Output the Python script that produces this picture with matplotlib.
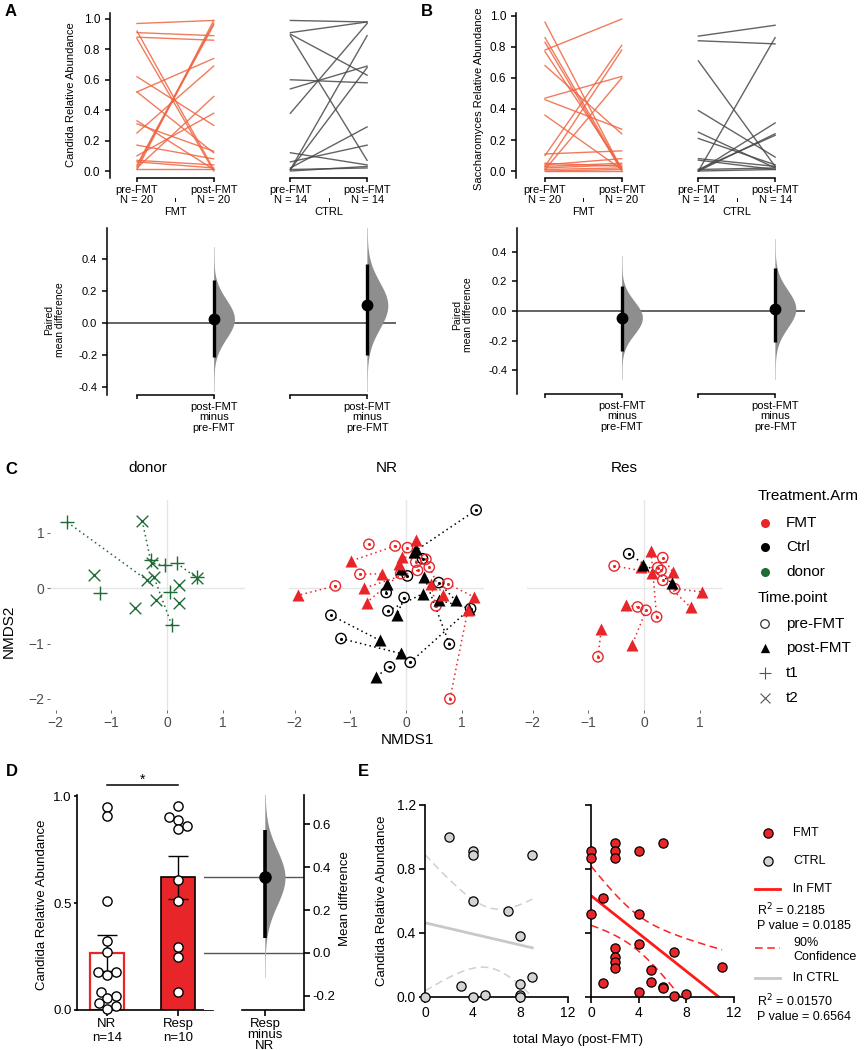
import numpy as np
import matplotlib
matplotlib.use('Agg')
import matplotlib.pyplot as plt

plt.rcParams['font.family'] = ['Liberation Sans', 'DejaVu Sans']
plt.rcParams['axes.unicode_minus'] = True

# ================= DATA =================
time_labels = ['pre-FMT', 'post-FMT']
arm_labels = ['FMT', 'CTRL']
arm_n = [20, 14]

# Panel A: Candida relative abundance, paired pre/post
cand_fmt_pre = [0.97, 0.92, 0.91, 0.88, 0.87, 0.62, 0.52, 0.52, 0.33, 0.31,
                0.25, 0.17, 0.10, 0.07, 0.06, 0.04, 0.03, 0.02, 0.01, 0.01]
cand_fmt_post = [0.99, 0.01, 0.89, 0.86, 0.00, 0.30, 0.74, 0.12, 0.01, 0.13,
                 0.69, 0.08, 0.38, 0.04, 0.02, 0.97, 0.96, 0.49, 0.99, 0.01]
cand_ctrl_pre = [0.99, 0.91, 0.90, 0.89, 0.60, 0.54, 0.38, 0.12, 0.06, 0.02, 0.01, 0.01, 0.01, 0.00]
cand_ctrl_post = [0.98, 0.98, 0.63, 0.07, 0.58, 0.69, 0.97, 0.04, 0.17, 0.29, 0.89, 0.68, 0.02, 0.03]
cand_diff = [0.025, 0.11]
cand_ci_lo = [-0.21, -0.20]
cand_ci_hi = [0.27, 0.37]

# Panel B: Saccharomyces relative abundance, paired pre/post
sacc_fmt_pre = [0.96, 0.86, 0.83, 0.78, 0.77, 0.68, 0.47, 0.46, 0.36, 0.11,
                0.10, 0.05, 0.04, 0.03, 0.03, 0.02, 0.01, 0.01, 0.00, 0.00]
sacc_fmt_post = [0.01, 0.01, 0.00, 0.98, 0.02, 0.24, 0.61, 0.27, 0.01, 0.13,
                 0.81, 0.03, 0.08, 0.78, 0.05, 0.04, 0.60, 0.02, 0.01, 0.00]
sacc_ctrl_pre = [0.87, 0.84, 0.71, 0.39, 0.25, 0.21, 0.08, 0.07, 0.01, 0.01, 0.00, 0.00, 0.00, 0.00]
sacc_ctrl_post = [0.94, 0.82, 0.03, 0.09, 0.02, 0.04, 0.03, 0.01, 0.23, 0.02, 0.86, 0.31, 0.24, 0.01]
sacc_diff = [-0.045, 0.015]
sacc_ci_lo = [-0.27, -0.21]
sacc_ci_hi = [0.17, 0.29]

# Panel C: NMDS coordinates (first n_paired entries of pre/post are paired)
facet_titles = ['donor', 'NR', 'Res']
donor_t1_x = [-1.79, -0.30, 0.08, 0.17, -0.04, -1.20, 0.05, 0.53]
donor_t1_y = [1.19, 0.50, -0.67, 0.45, 0.41, -0.09, -0.07, 0.20]
donor_t2_x = [-0.36, -0.45, -0.24, 0.53, -0.27, -1.32, -0.57, -0.21, 0.20, 0.20]
donor_t2_y = [0.14, 1.22, 0.20, 0.18, 0.45, 0.23, -0.36, -0.22, 0.05, -0.27]
donor_n_paired = 5

nr_fmt_pre_x = [-1.27, -0.20, -0.83, 0.78, 0.74, 0.53, 0.41, 0.20, 0.17, -0.10, 0.35, 0.02, -0.67]
nr_fmt_pre_y = [0.04, 0.76, 0.25, -2.00, 0.08, -0.32, 0.38, 0.32, 0.47, 0.26, 0.52, 0.73, 0.79]
nr_fmt_post_x = [-1.94, -0.99, -0.43, 1.10, 1.21, 0.44, 0.65, -0.75, 0.17, -0.71, -0.07, -0.13]
nr_fmt_post_y = [-0.13, 0.49, 0.26, -0.40, -0.16, 0.08, -0.13, 0.00, 0.86, -0.26, 0.56, 0.44]
nr_fmt_n_paired = 12
nr_ctrl_pre_x = [1.25, -1.35, -1.17, -0.30, 1.15, 0.77, -0.33, -0.04, -0.36, 0.02, 0.58, 0.29, 0.07]
nr_ctrl_pre_y = [1.41, -0.49, -0.91, -1.42, -0.37, -1.01, -0.41, -0.17, -0.08, 0.22, 0.10, 0.53, -1.34]
nr_ctrl_post_x = [0.13, -0.48, -0.10, -0.54, 0.59, 0.32, 0.30, -0.17, -0.35, -0.10, 0.88, 0.17, 1.13]
nr_ctrl_post_y = [0.65, -0.94, -1.18, -1.60, -0.22, 0.20, -0.10, -0.49, 0.08, 0.35, -0.22, 0.70, -0.38]
nr_ctrl_n_paired = 13

res_fmt_pre_x = [-0.83, 0.03, 0.54, 0.33, -0.54, 0.33, 0.22, -0.12, 0.24, 0.30]
res_fmt_pre_y = [-1.24, -0.40, -0.01, 0.14, 0.40, 0.55, -0.52, -0.34, 0.37, 0.32]
res_fmt_post_x = [-0.77, -0.22, 1.04, 0.83, 0.14, 0.51, 0.12, -0.33, -0.06]
res_fmt_post_y = [-0.74, -1.03, -0.07, -0.35, 0.28, 0.29, 0.67, -0.31, 0.38]
res_fmt_n_paired = 9
res_ctrl_pre_x = [-0.28]
res_ctrl_pre_y = [0.62]
res_ctrl_post_x = [0.49, -0.03]
res_ctrl_post_y = [0.10, 0.41]
res_ctrl_n_paired = 1

# Panel D: Candida abundance NR vs Responders
d_groups = ['NR', 'Resp']
d_nr = [0.95, 0.906, 0.509, 0.324, 0.272, 0.179, 0.179, 0.163, 0.086, 0.065, 0.055, 0.031, 0.019, 0.005]
d_resp = [0.953, 0.903, 0.888, 0.86, 0.844, 0.607, 0.509, 0.296, 0.249, 0.086]
d_ci = [0.071, 0.576]

# Panel E: Candida vs total Mayo (post-FMT)
e_ctrl_mayo = [2, 4, 4, 9, 4, 7, 8, 9, 3, 8, 0, 4, 5, 8, 8]
e_ctrl_cand = [1.0, 0.91, 0.89, 0.89, 0.60, 0.54, 0.38, 0.127, 0.069, 0.08, 0.0, 0.0, 0.015, 0.015, 0.0]
e_fmt_mayo = [0, 0, 0, 1, 1, 2, 2, 2, 2, 2, 2, 2, 4, 6, 4, 4, 7, 11, 5, 5, 6, 6, 4, 7, 8]
e_fmt_cand = [0.91, 0.87, 0.52, 0.62, 0.09, 0.964, 0.914, 0.871, 0.304, 0.252, 0.221, 0.183,
              0.914, 0.964, 0.517, 0.329, 0.279, 0.19, 0.169, 0.092, 0.065, 0.054, 0.029, 0.006, 0.019]
t90_by_df = {13: 1.771, 23: 1.714}

# ================= STYLE =================
W, H = 864, 1050
fig = plt.figure(figsize=(W / 100, H / 100), dpi=100)

RED = '#E8262A'
GREEN = '#1E6B35'
FMT_LINE = '#F06440'
CTRL_LINE = '#484848'
VIOLIN = '#8E8E8E'


def add_px(l, t, w, h):
    return fig.add_axes([l / W, 1 - (t + h) / H, w / W, h / H])


def half_violin(ax, pos, eff, lo, hi, width, span=3.7, lw_ci=2.4, ms=7.5):
    sd = (hi - lo) / (2 * 1.96)
    yy = np.linspace(eff - span * sd, eff + span * sd, 400)
    dens = np.exp(-0.5 * ((yy - eff) / sd) ** 2)
    ax.plot([pos, pos], [yy[0], yy[-1]], color='#D5D5D5', lw=0.7, zorder=2)
    ax.fill_betweenx(yy, pos, pos + width * dens, color=VIOLIN, lw=0, zorder=2)
    ax.plot([pos, pos], [lo, hi], color='black', lw=lw_ci, solid_capstyle='butt', zorder=3)
    ax.plot(pos, eff, 'o', color='black', ms=ms, zorder=4)


def paired_panel(top, bot, pres, posts, diffs, los, his):
    l, t, w, h, xl, yl = top
    axt = add_px(l, t, w, h)
    cols = [FMT_LINE, CTRL_LINE]
    for g in range(2):
        for a, b in zip(pres[g], posts[g]):
            axt.plot([2 * g, 2 * g + 1], [a, b], color=cols[g], lw=1.0, alpha=0.85)
    axt.set_xlim(xl)
    axt.set_ylim(yl)
    for s in ['top', 'right', 'bottom']:
        axt.spines[s].set_visible(False)
    axt.spines['left'].set_linewidth(1.1)
    yt = [0.0, 0.2, 0.4, 0.6, 0.8, 1.0]
    axt.set_yticks(yt)
    axt.set_yticklabels([f'{v:.1f}' for v in yt])
    axt.set_xticks([0, 1, 2, 3])
    axt.set_xticklabels([f'{time_labels[k % 2]}\nN = {arm_n[k // 2]}' for k in range(4)])
    axt.tick_params(axis='y', labelsize=8.5, length=3.5, width=1.1, direction='out')
    axt.tick_params(axis='x', labelsize=8, length=3, width=1.1, direction='out', pad=2)
    for lab in axt.get_xticklabels():
        lab.set_linespacing(1.0)
    tr = axt.get_xaxis_transform()
    for g in range(2):
        axt.plot([2 * g, 2 * g + 1], [0, 0], transform=tr, color='black', lw=1.1, clip_on=False)
        axt.plot([2 * g + 0.5] * 2, [-20 / h, -23 / h], transform=tr, color='black', lw=0.7, clip_on=False)
        axt.text(2 * g + 0.5, -34 / h, arm_labels[g], transform=tr, ha='center', va='center', fontsize=8)

    l, t, w, h, xl, yl = bot
    axb = add_px(l, t, w, h)
    axb.axhline(0, color='#3A3A3A', lw=1.1, zorder=1)
    for g in range(2):
        half_violin(axb, 2 * g + 1, diffs[g], los[g], his[g], 0.27)
    axb.set_xlim(xl)
    axb.set_ylim(yl)
    for s in ['top', 'right', 'bottom']:
        axb.spines[s].set_visible(False)
    axb.spines['left'].set_linewidth(1.1)
    yt = [-0.4, -0.2, 0.0, 0.2, 0.4]
    axb.set_yticks(yt)
    axb.set_yticklabels([f'{v:.1f}' for v in yt])
    axb.set_xticks([0, 1, 2, 3])
    axb.set_xticklabels(['', f'{time_labels[1]}\nminus\n{time_labels[0]}'] * 2)
    axb.tick_params(axis='y', labelsize=8, length=3.5, width=1.1, direction='out')
    axb.tick_params(axis='x', labelsize=8, length=3, width=1.1, direction='out', pad=2)
    for lab in axb.get_xticklabels():
        lab.set_linespacing(1.05)
    tr = axb.get_xaxis_transform()
    for g in range(2):
        axb.plot([2 * g, 2 * g + 1], [0, 0], transform=tr, color='black', lw=1.1, clip_on=False)
    return axt, axb


# ---------- Panel A ----------
u = 76.7
paired_panel((110, 13, 290, 165, (-27 / u, 263 / u), (-0.046, 1.039)),
             (107, 228, 289, 167, (-30 / u, 259 / u), (-0.45, 0.594)),
             [cand_fmt_pre, cand_ctrl_pre], [cand_fmt_post, cand_ctrl_post],
             cand_diff, cand_ci_lo, cand_ci_hi)
# ---------- Panel B ----------
paired_panel((516, 13, 290, 165, (-29 / u, 261 / u), (-0.045, 1.019)),
             (517, 228, 288, 166, (-28 / u, 260 / u), (-0.56, 0.56)),
             [sacc_fmt_pre, sacc_ctrl_pre], [sacc_fmt_post, sacc_ctrl_post],
             sacc_diff, sacc_ci_lo, sacc_ci_hi)

# ---------- Panel C ----------
def draw_pairs(ax, x0, y0, x1, y1, n, color):
    for i in range(n):
        ax.plot([x0[i], x1[i]], [y0[i], y1[i]], ls=(0, (1, 2.2)), color=color, lw=1.1, zorder=1)


facet_lefts = [50, 289, 527]
c_axes = []
for k, (fl, title) in enumerate(zip(facet_lefts, facet_titles)):
    ax = add_px(fl, 500, 195, 210)
    ax.set_xlim(-2.1, 1.39)
    ax.set_ylim(-2.2, 1.59)
    ax.axhline(0, color='#E6E6E6', lw=1.0, zorder=0)
    ax.axvline(0, color='#E6E6E6', lw=1.0, zorder=0)
    for s in ax.spines.values():
        s.set_visible(False)
    ax.set_xticks([-2, -1, 0, 1])
    ax.set_yticks([-2, -1, 0, 1])
    ax.tick_params(axis='both', labelsize=10, length=2, width=0.6, colors='#4D4D4D', pad=2)
    if k > 0:
        ax.tick_params(axis='y', left=False, labelleft=False)
    ax.annotate(title, xy=(0.5, 1), xycoords='axes fraction', xytext=(0, 23),
                textcoords='offset points', ha='center', va='center', fontsize=11)
    c_axes.append(ax)

axd0, axn, axr = c_axes
# donor
draw_pairs(axd0, donor_t1_x, donor_t1_y, donor_t2_x, donor_t2_y, donor_n_paired, GREEN)
axd0.scatter(donor_t1_x, donor_t1_y, marker='+', s=110, color=GREEN, lw=1.0, zorder=3)
axd0.scatter(donor_t2_x, donor_t2_y, marker='x', s=70, color=GREEN, lw=1.0, zorder=3)


def arm_points(ax, prex, prey, postx, posty, n, color):
    draw_pairs(ax, prex, prey, postx, posty, n, color)
    ax.scatter(prex, prey, marker='o', s=55, facecolors='none', edgecolors=color, lw=1.0, zorder=3)
    ax.scatter(prex, prey, marker='o', s=1.5, color=color, zorder=3)
    ax.scatter(postx, posty, marker='^', s=75, color=color, lw=0, zorder=4)


arm_points(axn, nr_ctrl_pre_x, nr_ctrl_pre_y, nr_ctrl_post_x, nr_ctrl_post_y, nr_ctrl_n_paired, 'black')
arm_points(axn, nr_fmt_pre_x, nr_fmt_pre_y, nr_fmt_post_x, nr_fmt_post_y, nr_fmt_n_paired, RED)
arm_points(axr, res_fmt_pre_x, res_fmt_pre_y, res_fmt_post_x, res_fmt_post_y, res_fmt_n_paired, RED)
arm_points(axr, res_ctrl_pre_x, res_ctrl_pre_y, res_ctrl_post_x, res_ctrl_post_y, res_ctrl_n_paired, 'black')

# ---------- Panel D ----------
def swarm_offsets(vals, d_px, ypx):
    placed = []
    offs = [0.0] * len(vals)
    for i in np.argsort(vals):
        y = vals[i] * ypx
        cands = [0.0]
        for px_, py_ in placed:
            dy = abs(py_ - y)
            if dy < d_px:
                dx = np.sqrt(d_px ** 2 - dy ** 2)
                cands += [px_ + dx, px_ - dx]
        cands.sort(key=abs)
        chosen = 0.0
        for c in cands:
            if all((c - px_) ** 2 + (y - py_) ** 2 >= d_px ** 2 - 1e-6 for px_, py_ in placed):
                chosen = c
                break
        placed.append((chosen, y))
        offs[i] = chosen
    return offs


axD = add_px(77, 795, 136, 215)
d_ylim = (0, 1.005)
xpx = 71.0
ypx = 215 / (d_ylim[1] - d_ylim[0])
d_vals = [np.array(d_nr), np.array(d_resp)]
d_means = [v.mean() for v in d_vals]
d_sems = [v.std(ddof=1) / np.sqrt(len(v)) for v in d_vals]
axD.bar(0, d_means[0], width=0.48, color='white', edgecolor=RED, lw=1.6, zorder=1)
axD.bar(1, d_means[1], width=0.48, color=RED, edgecolor='black', lw=1.2, zorder=1)
axD.errorbar([0, 1], d_means, yerr=d_sems, fmt='none', ecolor='black', elinewidth=1.0,
             capsize=7.5, capthick=1.0, zorder=2)
for g, v in enumerate(d_vals):
    offs = swarm_offsets(v, 9.3, ypx)
    axD.scatter(g + np.array(offs) / xpx, v, s=44, facecolors='white', edgecolors='black',
                lw=1.0, zorder=3, clip_on=False)
axD.set_xlim(-0.42, 1.49)
axD.set_ylim(d_ylim)
for s in ['top', 'right']:
    axD.spines[s].set_visible(False)
for s in ['left', 'bottom']:
    axD.spines[s].set_linewidth(1.2)
axD.set_yticks([0.0, 0.5, 1.0])
axD.set_yticklabels(['0.0', '0.5', '1.0'])
axD.set_xticks([0, 1])
axD.set_xticklabels([f'{g}\nn={len(v)}' for g, v in zip(d_groups, d_vals)])
axD.tick_params(axis='both', labelsize=9.5, length=4, width=1.2, direction='out', pad=2)
axD.tick_params(axis='y', length=2)
axD.plot([0, 1], [1.051, 1.051], color='black', lw=1.1, clip_on=False)
axD.text(0.5, 1.075, '*', ha='center', va='center', fontsize=10)

axDr = add_px(204, 795, 100, 215)
d_eff = d_means[1] - d_means[0]
axDr.set_ylim(d_ylim[0] - d_means[0], d_ylim[1] - d_means[0])
axDr.set_xlim(0, 1)
axDr.axhline(0, color='#555555', lw=1.0, zorder=1)
axDr.axhline(d_eff, color='#555555', lw=1.0, zorder=1)
half_violin(axDr, 0.61, d_eff, d_ci[0], d_ci[1], 0.2, span=3.6, lw_ci=2.6, ms=8)
for s in ['top', 'left']:
    axDr.spines[s].set_visible(False)
axDr.spines['right'].set_linewidth(1.2)
axDr.spines['bottom'].set_linewidth(1.2)
axDr.spines['bottom'].set_bounds(0.38, 1.0)
axDr.yaxis.tick_right()
yt = [-0.2, 0.0, 0.2, 0.4, 0.6]
axDr.set_yticks(yt)
axDr.set_yticklabels([f'{v:.1f}' for v in yt])
axDr.set_xticks([0.61])
axDr.set_xticklabels([f'{d_groups[1]}\nminus\n{d_groups[0]}'])
axDr.tick_params(axis='both', labelsize=9.5, length=4, width=1.2, direction='out', pad=2)
for lab in axDr.get_xticklabels():
    lab.set_linespacing(0.85)

# ---------- Panel E ----------
def fit_band(x, y):
    x = np.asarray(x, float)
    y = np.asarray(y, float)
    n = len(x)
    slope, icpt = np.polyfit(x, y, 1)
    resid = y - (icpt + slope * x)
    s = np.sqrt((resid ** 2).sum() / (n - 2))
    sxx = ((x - x.mean()) ** 2).sum()
    xs = np.linspace(x.min(), x.max(), 200)
    yh = icpt + slope * xs
    w = t90_by_df[n - 2] * s * np.sqrt(1 / n + (xs - x.mean()) ** 2 / sxx)
    return xs, yh, yh - w, yh + w


e_panels = [(425, e_ctrl_mayo, e_ctrl_cand, '#D3D3D3', '#C8C8C8', '#D0D0D0'),
            (591, e_fmt_mayo, e_fmt_cand, RED, '#FF1A1A', '#FF2020')]
for k, (el, xv, yv, fc, lc, bc) in enumerate(e_panels):
    ax = add_px(el, 805, 143, 192)
    xs, yh, lo, hi = fit_band(xv, yv)
    ax.plot(xs, lo, color=bc, lw=1.1, ls=(0, (5, 3)), zorder=1)
    ax.plot(xs, hi, color=bc, lw=1.1, ls=(0, (5, 3)), zorder=1)
    ax.plot(xs, yh, color=lc, lw=2.0, zorder=2)
    ax.scatter(xv, yv, s=44, color=fc, edgecolors='black', lw=0.9, zorder=3, clip_on=False)
    ax.set_xlim(0, 12)
    ax.set_ylim(0, 1.2)
    for s in ['top', 'right']:
        ax.spines[s].set_visible(False)
    for s in ['left', 'bottom']:
        ax.spines[s].set_linewidth(1.2)
    ax.set_xticks([0, 4, 8, 12])
    ax.set_yticks([0.0, 0.4, 0.8, 1.2])
    ax.set_yticklabels(['0.0', '0.4', '0.8', '1.2'])
    ax.tick_params(axis='both', labelsize=10, length=4.5, width=1.2, direction='out', pad=2)
    if k == 1:
        ax.set_yticklabels([])

# ================= OVERLAY TEXT / LEGENDS =================
ov = fig.add_axes([0, 0, 1, 1])
ov.set_xlim(0, W)
ov.set_ylim(H, 0)
ov.axis('off')
ov.set_zorder(20)

for lab, x, y in [('A', 11, 12), ('B', 427, 12), ('C', 11, 469), ('D', 12, 772), ('E', 363, 772)]:
    ov.text(x, y, lab, fontsize=12, fontweight='bold', ha='center', va='center')

ov.text(71, 95, 'Candida Relative Abundance', rotation=90, fontsize=8, ha='center', va='center')
ov.text(479, 99, 'Saccharomyces Relative Abundance', rotation=90, fontsize=8, ha='center', va='center')
ov.text(55, 320, 'Paired\nmean difference', rotation=90, fontsize=7.5, ha='center', va='center',
        linespacing=1.1)
ov.text(463, 315, 'Paired\nmean difference', rotation=90, fontsize=7.5, ha='center', va='center',
        linespacing=1.1)

ov.text(407, 740, 'NMDS1', fontsize=11, ha='center', va='center')
ov.text(9, 631, 'NMDS2', fontsize=11, ha='center', va='center', rotation=90)

# C legend
ov.text(758, 496, 'Treatment.Arm', fontsize=11, ha='left', va='center')
for y, c, lab in [(523, RED, 'FMT'), (547, 'black', 'Ctrl'), (572, GREEN, 'donor')]:
    ov.scatter(765, y, s=30, color=c)
    ov.text(786, y, lab, fontsize=11, va='center')
ov.text(758, 598, 'Time.point', fontsize=11, ha='left', va='center')
ov.scatter(765, 624, s=38, facecolors='none', edgecolors='#333333', lw=0.9)
ov.text(786, 624, time_labels[0], fontsize=11, va='center')
ov.scatter(765, 648, s=45, marker='^', color='black', lw=0)
ov.text(786, 648, time_labels[1], fontsize=11, va='center')
ov.scatter(765, 673, s=80, marker='+', color='#555555', lw=0.8)
ov.text(786, 673, 't1', fontsize=11, va='center')
ov.scatter(765, 698, s=50, marker='x', color='#555555', lw=0.8)
ov.text(786, 698, 't2', fontsize=11, va='center')

# D labels
ov.text(42, 905, 'Candida Relative Abundance', rotation=90, fontsize=9.5, ha='center', va='center')
ov.text(345, 899, 'Mean difference', rotation=90, fontsize=9.5, ha='center', va='center')

# E labels
ov.text(382, 901, 'Candida Relative Abundance', rotation=90, fontsize=9.5, ha='center', va='center')
ov.text(578, 1040, 'total Mayo (post-FMT)', fontsize=9.5, ha='center', va='center')

# E legend
ov.scatter(768, 833, s=44, color=RED, edgecolors='black', lw=0.9)
ov.text(793, 833, 'FMT', fontsize=9, va='center')
ov.scatter(768, 861, s=44, color='#D3D3D3', edgecolors='black', lw=0.9)
ov.text(793, 861, 'CTRL', fontsize=9, va='center')
ov.plot([755, 780], [889, 889], color='#FF1A1A', lw=2)
ov.text(793, 889, 'ln FMT', fontsize=9, va='center')
ov.text(757, 910, 'R$^2$ = 0.2185', fontsize=9, va='center')
ov.text(757, 926, 'P value = 0.0185', fontsize=9, va='center')
ov.plot([755, 780], [948, 948], color='#FF2020', lw=1.1, ls=(0, (5, 3)))
ov.text(793, 950, '90%\nConfidence', fontsize=9, va='center', linespacing=1.2)
ov.plot([755, 780], [978, 978], color='#C8C8C8', lw=2)
ov.text(793, 978, 'ln CTRL', fontsize=9, va='center')
ov.text(757, 1001, 'R$^2$ = 0.01570', fontsize=9, va='center')
ov.text(757, 1017, 'P value = 0.6564', fontsize=9, va='center')

fig.savefig('out.png', dpi=100)
